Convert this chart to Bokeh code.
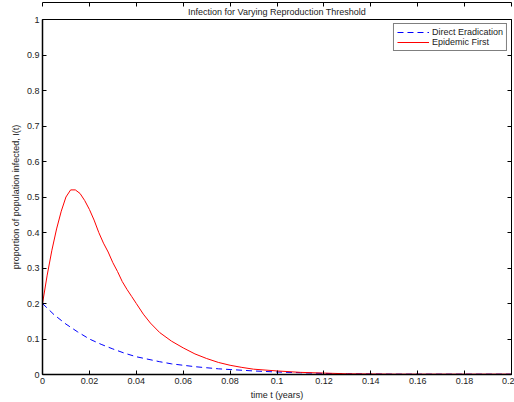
from bokeh.plotting import figure
from bokeh.models import LinearAxis, FixedTicker, Range1d, Legend, LegendItem, Title
from bokeh.embed import file_html
from bokeh.resources import INLINE

# Data
t_direct = [0, 0.005, 0.01, 0.015, 0.02, 0.025, 0.03, 0.035, 0.04, 0.045, 0.05, 0.055,
            0.06, 0.065, 0.07, 0.075, 0.08, 0.09, 0.10, 0.11, 0.12, 0.13, 0.15, 0.2]
i_direct = [0.2, 0.168, 0.142, 0.12, 0.100, 0.085, 0.072, 0.060, 0.050, 0.043, 0.036, 0.030,
            0.026, 0.022, 0.019, 0.016, 0.014, 0.010, 0.007, 0.005, 0.003, 0.002, 0.001, 0.001]

t_epidemic = [0, 0.002, 0.004, 0.006, 0.008, 0.010, 0.012, 0.014, 0.016, 0.018, 0.020,
              0.022, 0.024, 0.026, 0.028, 0.030, 0.032, 0.034, 0.036, 0.038, 0.040, 0.043,
              0.046, 0.050, 0.055, 0.060, 0.065, 0.070, 0.075, 0.080, 0.085, 0.09, 0.10,
              0.11, 0.12, 0.13, 0.15, 0.2]
i_epidemic = [0.2, 0.28, 0.35, 0.41, 0.46, 0.50, 0.52, 0.52, 0.51, 0.49, 0.465,
              0.435, 0.40, 0.37, 0.345, 0.315, 0.29, 0.262, 0.24, 0.22, 0.20, 0.17,
              0.145, 0.118, 0.094, 0.075, 0.058, 0.045, 0.034, 0.026, 0.02, 0.015, 0.010,
              0.006, 0.004, 0.002, 0.001, 0.001]

x_ticks = [0, 0.02, 0.04, 0.06, 0.08, 0.1, 0.12, 0.14, 0.16, 0.18, 0.2]
x_tick_labels = ["0", "0.02", "0.04", "0.06", "0.08", "0.1", "0.12", "0.14", "0.16", "0.18", "0.2"]
y_ticks = [0, 0.1, 0.2, 0.3, 0.4, 0.5, 0.6, 0.7, 0.8, 0.9, 1]
y_tick_labels = ["0", "0.1", "0.2", "0.3", "0.4", "0.5", "0.6", "0.7", "0.8", "0.9", "1"]

FONT = "Liberation Sans"

p = figure(width=514, height=402, output_backend="svg", toolbar_location=None,
           x_range=Range1d(0, 0.2), y_range=Range1d(0, 1),
           x_axis_location=None, y_axis_location=None,
           min_border_left=42, min_border_right=3, min_border_top=19, min_border_bottom=27)
p.background_fill_color = "white"
p.border_fill_color = "white"
p.outline_line_color = "black"
p.outline_line_width = 1
p.xgrid.visible = False
p.ygrid.visible = False

t = Title(text="Infection for Varying Reproduction Threshold", align="center",
          text_font=FONT, text_font_size="9px", text_font_style="normal",
          text_color="#222222", standoff=5, offset=0)
p.add_layout(t, "above")


def style(ax):
    ax.major_tick_in = 4
    ax.major_tick_out = 0
    ax.minor_tick_line_color = None
    ax.axis_line_color = "black"
    ax.axis_line_width = 1.5
    ax.major_tick_line_color = "black"
    ax.major_label_text_font = FONT
    ax.major_label_text_font_size = "9px"
    ax.major_label_text_color = "#222222"
    ax.major_label_standoff = 3
    ax.axis_label_text_font = FONT
    ax.axis_label_text_font_size = "9px"
    ax.axis_label_text_font_style = "normal"
    ax.axis_label_text_color = "#222222"
    ax.axis_label_standoff = 3


xb = LinearAxis(ticker=FixedTicker(ticks=x_ticks), axis_label="time t (years)",
                major_label_overrides={k: v for k, v in zip(x_ticks, x_tick_labels)})
style(xb)
p.add_layout(xb, "below")

yl = LinearAxis(ticker=FixedTicker(ticks=y_ticks), axis_label="proportion of population infected, I(t)",
                major_label_overrides={k: v for k, v in zip(y_ticks, y_tick_labels)})
style(yl)
p.add_layout(yl, "left")

# tick-only axes on top and right (MATLAB box style)
xt = LinearAxis(ticker=FixedTicker(ticks=x_ticks), major_label_overrides={k: "" for k in x_ticks})
style(xt)
xt.axis_line_width = 1
xt.major_label_standoff = 0
p.add_layout(xt, "above")

yr = LinearAxis(ticker=FixedTicker(ticks=y_ticks), major_label_overrides={k: "" for k in y_ticks})
style(yr)
yr.axis_line_width = 1
yr.major_label_standoff = 0
p.add_layout(yr, "right")

r1 = p.line(t_direct, i_direct, line_color="#0000ff", line_width=1, line_dash="6 4")
r2 = p.line(t_epidemic, i_epidemic, line_color="#ff0000", line_width=1)

leg = Legend(items=[LegendItem(label="Direct Eradication", renderers=[r1]),
                    LegendItem(label="Epidemic First", renderers=[r2])],
             location="top_right", label_text_font=FONT, label_text_font_size="9px",
             label_text_color="#222222", border_line_color="black", border_line_width=1,
             glyph_width=32, glyph_height=10, label_height=10, spacing=0,
             padding=3, margin=4, label_standoff=3, background_fill_alpha=1)
p.add_layout(leg, "center")

open("out.html", "w").write(file_html(p, INLINE))
